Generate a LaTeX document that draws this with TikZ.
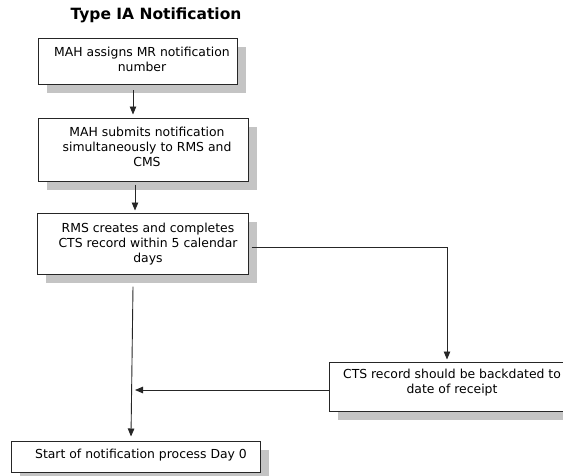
\documentclass[tikz,border=0pt]{standalone}
\usepackage{fontspec}
\setmainfont{DejaVu Sans}
\usetikzlibrary{arrows.meta,shadows}
\begin{document}
\begin{tikzpicture}[x=1pt,y=-1pt,
  box/.style={draw=black!85,line width=1pt,fill=white,rectangle,inner sep=0pt,
    drop shadow={shadow xshift=9pt,shadow yshift=-9pt,fill=black!23,opacity=1}},
  txt/.style={align=center,font=\fontsize{12.4}{15}\selectfont,inner sep=0pt},
  arr/.style={draw=black!85,line width=0.9pt,-{Triangle[length=8pt,width=6.5pt]}}]
\useasboundingbox (0,0) rectangle (563,475);
% title
\node[font=\fontsize{15.5}{17}\bfseries\selectfont] (title) at (156,15) {Type IA Notification};
% process boxes
\node[box,minimum width=199pt,minimum height=46pt] (b1) at (137.5,61) {};
\node[box,minimum width=210pt,minimum height=63pt] (b2) at (143,149.5) {};
\node[box,minimum width=211pt,minimum height=61pt] (b3) at (142.5,243.5) {};
\node[box,minimum width=271pt,minimum height=49pt] (b4) at (464.5,386.5) {};
\node[box,minimum width=249pt,minimum height=31pt] (b5) at (135.5,456.5) {};
% box texts
\node[txt] (t1) at (142,59.5) {MAH assigns MR notification\\number};
\node[txt] (t2) at (147,147) {MAH submits notification\\simultaneously to RMS and\\CMS};
\node[txt] (t3) at (148,244) {RMS creates and completes\\CTS record within 5 calendar\\days};
\node[txt] (t4) at (452,383) {CTS record should be backdated to\\date of receipt};
\node[txt] (t5) at (141,455) {Start of notification process Day 0};
% connectors
\draw[arr] ([xshift=-4.5pt,yshift=-29pt]b1.center) -- ([xshift=-10pt,yshift=3pt]b2.north);
\draw[arr] ([xshift=-8pt,yshift=-3pt]b2.south) -- ([xshift=-7.5pt,yshift=2pt]b3.north);
\draw[arr] ([xshift=3pt]b3.east |- 0,247) -| ([xshift=-17.5pt,yshift=2pt]b4.north);
\coordinate (join) at (135,390);
\draw[arr] (b4.west |- join) -- (join);
\draw[arr] ([xshift=-9.5pt,yshift=-12pt]b3.south) -- ([xshift=-4.5pt,yshift=4pt]b5.north);
\end{tikzpicture}
\end{document}
